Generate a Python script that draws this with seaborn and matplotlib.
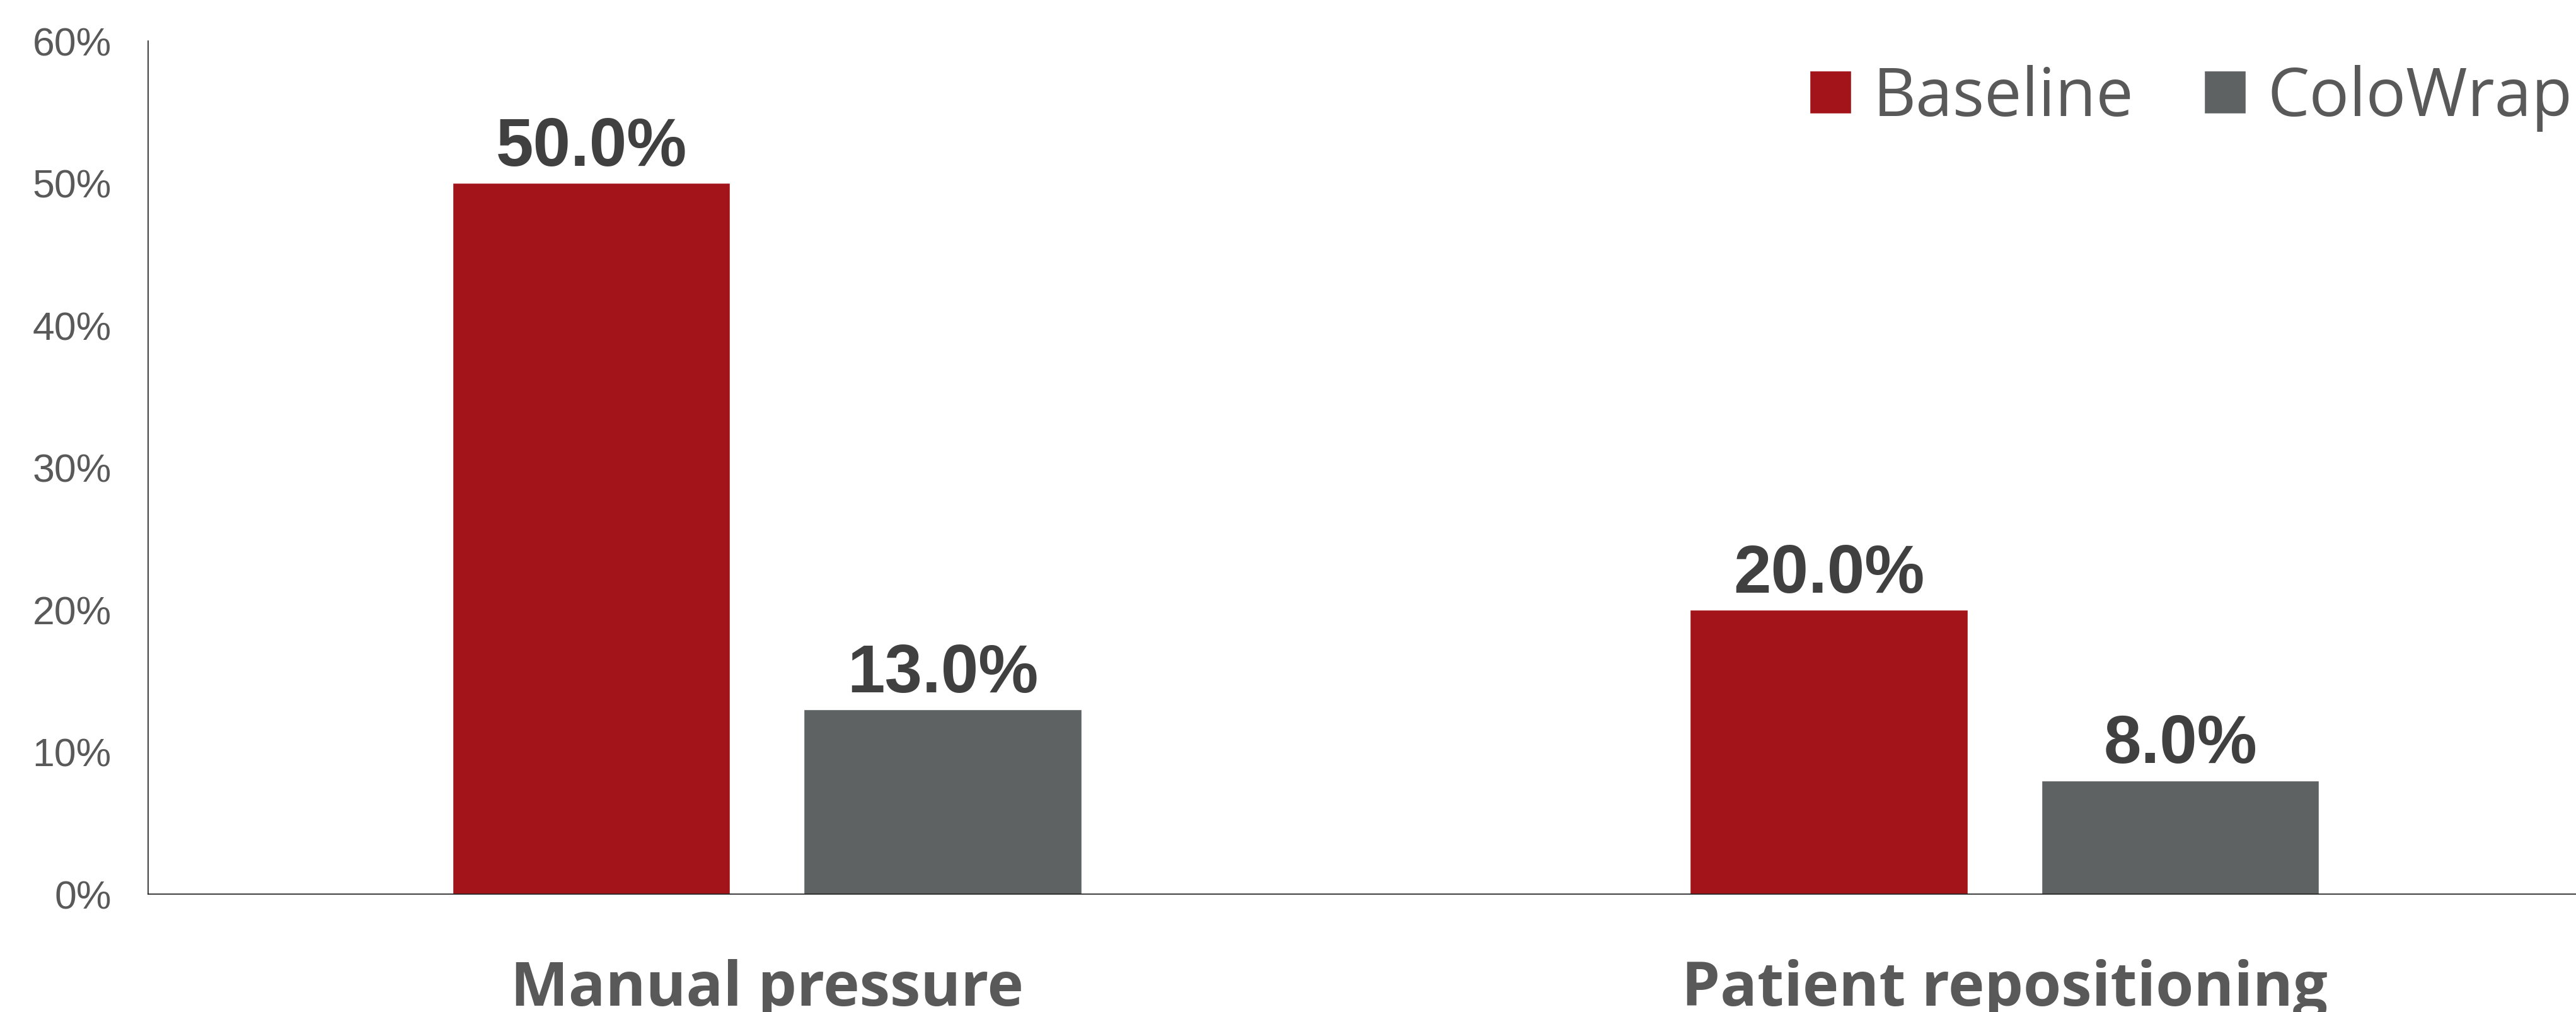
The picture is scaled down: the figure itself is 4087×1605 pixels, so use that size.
import pandas as pd
import seaborn as sns
import matplotlib.pyplot as plt

# chart data
categories = ["Manual pressure", "Patient repositioning"]
groups = ["Baseline", "ColoWrap"]
baseline_values = [50.0, 20.0]
colowrap_values = [13.0, 8.0]
y_ticks = [0, 10, 20, 30, 40, 50, 60]
y_tick_labels = [f"{t}%" for t in y_ticks]

colors = {"Baseline": "#A3141A", "ColoWrap": "#5E6263"}


def make_chart():
    df = pd.DataFrame({
        "category": categories * 2,
        "group": [groups[0]] * len(categories) + [groups[1]] * len(categories),
        "value": baseline_values + colowrap_values,
    })

    sns.set_style("white")
    fig = plt.figure(figsize=(40.875, 16.055), dpi=100)
    ax = fig.add_axes([0.0575, 0.1165, 0.9425, 0.843])

    sns.barplot(data=df, x="category", y="value", hue="group", order=categories,
                hue_order=groups, palette=colors, width=0.568, gap=0.21,
                saturation=1, ax=ax)

    # value labels above bars
    for container in ax.containers:
        ax.bar_label(container, fmt="{:.1f}%", padding=4, fontsize=77,
                     fontweight="bold", color="#404040", family="Liberation Sans")

    ax.set_ylim(0, 60)
    ax.set_xlim(-0.5, 1.462)
    ax.set_yticks(y_ticks)
    ax.set_yticklabels(y_tick_labels, fontsize=45, color="#595959",
                       family="Liberation Sans")
    ax.set_xticks(range(len(categories)))
    ax.set_xticklabels(categories, fontsize=70, fontweight="bold",
                       color="#595959", family="Open Sans")
    ax.tick_params(axis="y", length=0, pad=42)
    ax.tick_params(axis="x", length=0, pad=74)
    ax.set_xlabel("")
    ax.set_ylabel("")

    for side in ["top", "right"]:
        ax.spines[side].set_visible(False)
    for side in ["left", "bottom"]:
        ax.spines[side].set_color("#1a1a1a")
        ax.spines[side].set_linewidth(1.2)

    ax.legend(loc="center left", bbox_to_anchor=(0.7025, 0.903),
              bbox_transform=fig.transFigure, ncol=2, frameon=False,
              prop={"family": "Open Sans", "size": 76}, labelcolor="#595959",
              handlelength=0.62, handleheight=0.62, handletextpad=0.33,
              columnspacing=1.06, borderpad=0, borderaxespad=0)

    fig.savefig("out.png", dpi=100)


if __name__ == "__main__":
    make_chart()
